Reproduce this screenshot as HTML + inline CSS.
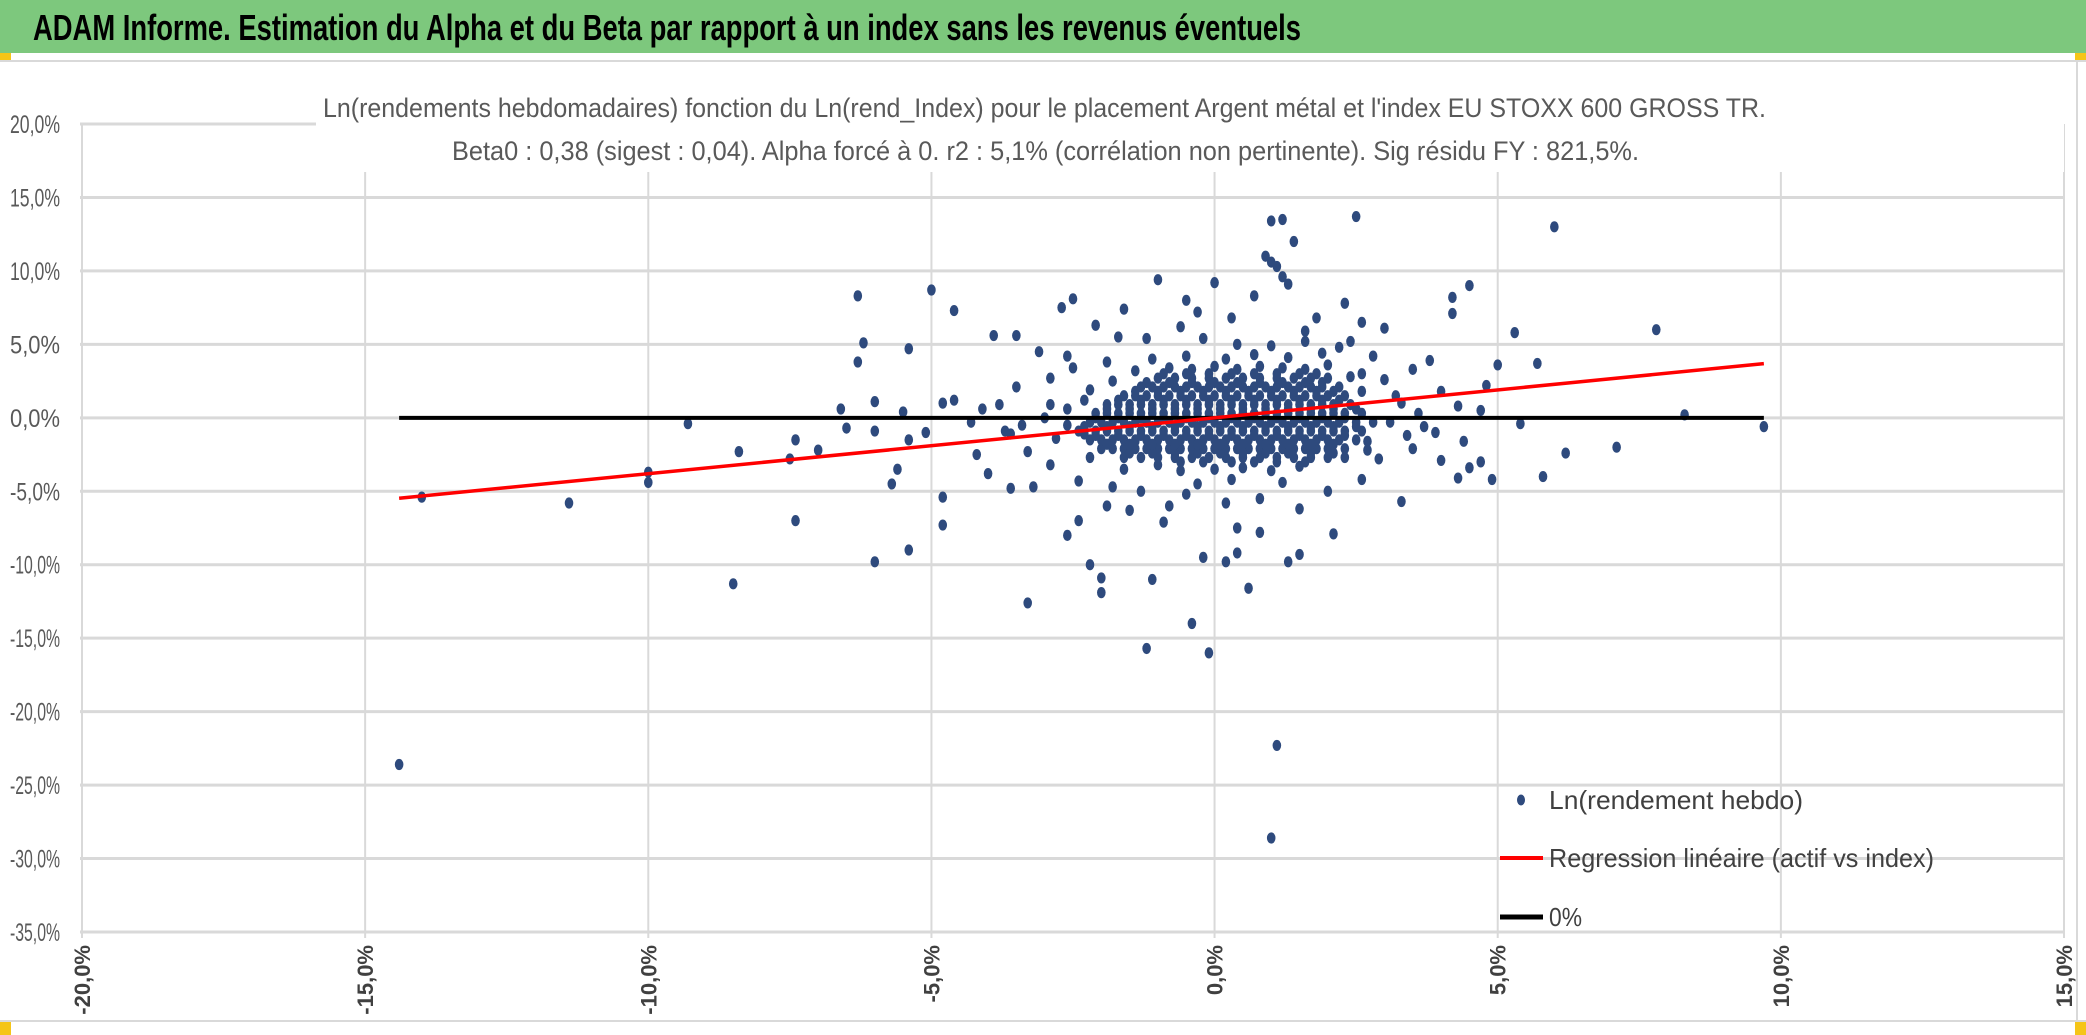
<!DOCTYPE html>
<html><head><meta charset="utf-8"><style>
html,body{margin:0;padding:0;background:#fff}
svg{display:block}
text{font-family:"Liberation Sans",sans-serif}
</style></head><body>
<svg id="chart" width="2086" height="1035" viewBox="0 0 2086 1035" xmlns="http://www.w3.org/2000/svg">
<rect x="0" y="0" width="2086" height="1035" fill="#fff"/>
<rect x="0" y="0" width="2086" height="53" fill="#7dc87d"/>
<text x="33" y="40" font-size="36" font-weight="bold" fill="#000" textLength="1268" lengthAdjust="spacingAndGlyphs">ADAM Informe. Estimation du Alpha et du Beta par rapport à un index sans les revenus éventuels</text>
<rect x="0" y="53" width="11" height="7" fill="#f5c518"/>
<rect x="2075" y="53" width="11" height="7" fill="#f5c518"/>
<line x1="0" y1="61" x2="2086" y2="61" stroke="#d9d9d9" stroke-width="2"/>
<line x1="2077" y1="61" x2="2077" y2="1021" stroke="#d9d9d9" stroke-width="2"/>
<line x1="0" y1="1021" x2="2086" y2="1021" stroke="#d9d9d9" stroke-width="2"/>
<rect x="0" y="1022" width="11" height="13" fill="#f5c518"/>
<rect x="2075" y="1022" width="11" height="13" fill="#f5c518"/>
<g id="grid"></g>
<rect x="316" y="84" width="1748" height="88" fill="#fff"/>
<text x="323" y="117" font-size="27" fill="#595959" textLength="1443" lengthAdjust="spacingAndGlyphs">Ln(rendements hebdomadaires) fonction du Ln(rend_Index) pour le placement Argent métal et l'index EU STOXX 600 GROSS TR.</text>
<text x="452" y="160" font-size="27" fill="#595959" textLength="1187" lengthAdjust="spacingAndGlyphs">Beta0 : 0,38 (sigest : 0,04). Alpha forcé à 0. r2 : 5,1% (corrélation non pertinente). Sig résidu FY : 821,5%.</text>
<g id="axes"></g>
<g id="series"></g>
<g id="legend">
<ellipse cx="1521" cy="800" rx="4" ry="5.5" fill="#2e4a7d"/>
<text x="1549" y="809" font-size="26" fill="#404040" textLength="254" lengthAdjust="spacingAndGlyphs">Ln(rendement hebdo)</text>
<line x1="1500" y1="858" x2="1543" y2="858" stroke="#ff0000" stroke-width="4"/>
<text x="1549" y="867" font-size="26" fill="#404040" textLength="385" lengthAdjust="spacingAndGlyphs">Regression linéaire (actif vs index)</text>
<line x1="1500" y1="917" x2="1543" y2="917" stroke="#000" stroke-width="5"/>
<text x="1549" y="926" font-size="26" fill="#404040" textLength="33" lengthAdjust="spacingAndGlyphs">0%</text>
</g>
</svg>
<script>
const xTicks=[-20,-15,-10,-5,0,5,10,15];
const yTicks=[20,15,10,5,0,-5,-10,-15,-20,-25,-30,-35];
const xTickLabels=["-20,0%","-15,0%","-10,0%","-5,0%","0,0%","5,0%","10,0%","15,0%"];
const yTickLabels=["20,0%","15,0%","10,0%","5,0%","0,0%","-5,0%","-10,0%","-15,0%","-20,0%","-25,0%","-30,0%","-35,0%"];
const beta=0.38;
const lineRange=[-14.4,9.7];
const outliers=[[-14.4,-23.6],[-14.0,-5.4],[-11.4,-5.8],[-10.0,-4.4],[-10.0,-3.7],[-9.3,-0.4],[-8.4,-2.3],[-8.5,-11.3],[-7.4,-1.5],[-7.5,-2.8],[-7.4,-7.0],[-6.3,8.3],[-6.3,3.8],[-6.2,5.1],[-6.6,0.6],[-6.5,-0.7],[-6.0,1.1],[-6.0,-0.9],[-6.0,-9.8],[-5.7,-4.5],[-5.6,-3.5],[-5.5,0.4],[-5.4,4.7],[-5.4,-1.5],[-5.4,-9.0],[-5.1,-1.0],[-5.0,8.7],[-4.8,-5.4],[-4.8,-7.3],[-4.8,1.0],[-4.6,7.3],[-4.6,1.2],[-4.2,-2.5],[-4.1,0.6],[-4.0,-3.8],[-3.9,5.6],[-3.7,-0.9],[-3.6,-4.8],[-3.5,5.6],[-3.5,2.1],[-3.3,-12.6],[-3.2,-4.7],[-3.3,-2.3],[-3.1,4.5],[-2.9,2.7],[-2.9,-3.2],[-2.7,7.5],[-2.6,-8.0],[-2.5,8.1],[-2.4,-7.0],[-2.3,-1.1],[-2.2,-10.0],[-2.0,-11.9],[-2.1,6.3],[-2.0,-10.9],[-1.8,-4.7],[-1.6,7.4],[-1.5,-6.3],[-1.4,-1.6],[-1.3,-5.0],[-1.2,-15.7],[-1.1,-11.0],[-1.0,9.4],[-0.9,-7.1],[-0.5,8.0],[-0.4,-14.0],[-0.2,-9.5],[-0.1,-16.0],[0.0,9.2],[0.2,-9.8],[0.4,-7.5],[0.4,-9.2],[0.6,-11.6],[0.7,8.3],[0.8,-7.8],[0.9,11.0],[1.0,10.6],[1.1,10.3],[1.2,9.6],[1.0,-28.6],[1.1,-22.3],[1.0,13.4],[1.2,13.5],[1.4,12.0],[1.3,9.1],[1.3,-9.8],[1.5,-9.3],[2.1,-7.9],[2.5,13.7],[2.3,7.8],[2.6,6.5],[3.0,6.1],[3.3,-5.7],[3.5,3.3],[3.8,3.9],[4.2,8.2],[4.2,7.1],[4.5,9.0],[4.5,-3.4],[4.3,-4.1],[4.8,2.2],[4.9,-4.2],[5.0,3.6],[5.3,5.8],[5.4,-0.4],[5.7,3.7],[5.8,-4.0],[6.0,13.0],[6.2,-2.4],[7.1,-2.0],[7.8,6.0],[8.3,0.2],[9.7,-0.6],[3.9,-1.0],[3.5,-2.1],[4.0,-2.9],[4.3,0.8],[4.7,-3.0],[3.6,0.3],[3.1,-0.3],[3.2,1.5],[3.0,2.6],[4.7,0.5],[-7.0,-2.2],[-3.0,0.0],[-3.8,0.9],[-4.3,-0.3],[-2.8,-1.4],[-3.6,-1.1],[-2.5,3.4],[-2.2,-2.7],[-2.6,4.2],[-2.9,0.9],[-3.4,-0.5],[-2.4,-4.3],[-1.9,-6.0],[-1.7,5.5],[-1.9,3.8],[-2.2,1.9],[-2.6,-0.5],[-1.6,-3.5],[-0.8,-6.0],[-0.5,-5.2],[0.2,-5.8],[0.8,-5.5],[1.5,-6.2],[2.0,-5.0],[2.6,-4.2],[2.9,-2.8],[2.8,4.2],[2.4,5.2],[1.8,6.8],[1.6,5.9],[-0.6,6.2],[-1.2,5.4],[0.3,6.8],[-0.3,7.2],[3.4,-1.2],[3.3,1.0],[3.7,-0.6],[4.0,1.8],[4.4,-1.6],[2.7,-1.6],[2.6,1.8]];
const corePoints=[
[-0.6,-3.6],[0.0,-3.5],[0.5,-3.4],[1.0,-3.6],[1.5,-3.3],[-1.0,-3.2],[0.3,-4.2],[1.2,-4.4],[-0.3,-4.5],
[-1.6,-2.7],[-1.3,-2.7],[-1.0,-2.7],[-0.7,-2.7],[-0.4,-2.7],[-0.1,-2.7],[0.2,-2.7],[0.5,-2.7],[0.8,-2.7],[1.1,-2.7],[1.4,-2.7],[1.7,-2.7],[2.0,-2.7],[2.3,-2.7],
[-2.0,-2.1],[-1.8,-2.1],[-1.6,-2.1],[-1.4,-2.1],[-1.2,-2.1],[-1.0,-2.1],[-0.8,-2.1],[-0.6,-2.1],[-0.4,-2.1],[-0.2,-2.1],[0.0,-2.1],[0.2,-2.1],[0.4,-2.1],[0.6,-2.1],[0.8,-2.1],[1.0,-2.1],[1.2,-2.1],[1.4,-2.1],[1.6,-2.1],[1.8,-2.1],[2.0,-2.1],[2.3,-2.1],
[-2.2,-1.5],[-2.0,-1.5],[-1.8,-1.5],[-1.6,-1.5],[-1.4,-1.5],[-1.2,-1.5],[-1.0,-1.5],[-0.8,-1.5],[-0.6,-1.5],[-0.4,-1.5],[-0.2,-1.5],[0.0,-1.5],[0.2,-1.5],[0.4,-1.5],[0.6,-1.5],[0.8,-1.5],[1.0,-1.5],[1.2,-1.5],[1.4,-1.5],[1.6,-1.5],[1.8,-1.5],[2.0,-1.5],[2.2,-1.5],[2.5,-1.5],
[-2.4,-0.9],[-2.1,-0.9],[-1.9,-0.9],[-1.7,-0.9],[-1.5,-0.9],[-1.3,-0.9],[-1.1,-0.9],[-0.9,-0.9],[-0.7,-0.9],[-0.5,-0.9],[-0.3,-0.9],[-0.1,-0.9],[0.1,-0.9],[0.3,-0.9],[0.5,-0.9],[0.7,-0.9],[0.9,-0.9],[1.1,-0.9],[1.3,-0.9],[1.5,-0.9],[1.7,-0.9],[1.9,-0.9],[2.1,-0.9],[2.3,-0.9],[2.6,-0.9],
[-2.2,-0.3],[-2.0,-0.3],[-1.8,-0.3],[-1.6,-0.3],[-1.4,-0.3],[-1.2,-0.3],[-1.0,-0.3],[-0.8,-0.3],[-0.6,-0.3],[-0.4,-0.3],[-0.2,-0.3],[0.0,-0.3],[0.2,-0.3],[0.4,-0.3],[0.6,-0.3],[0.8,-0.3],[1.0,-0.3],[1.2,-0.3],[1.4,-0.3],[1.6,-0.3],[1.8,-0.3],[2.0,-0.3],[2.2,-0.3],[2.5,-0.3],[2.8,-0.3],
[-2.1,0.3],[-1.9,0.3],[-1.7,0.3],[-1.5,0.3],[-1.3,0.3],[-1.1,0.3],[-0.9,0.3],[-0.7,0.3],[-0.5,0.3],[-0.3,0.3],[-0.1,0.3],[0.1,0.3],[0.3,0.3],[0.5,0.3],[0.7,0.3],[0.9,0.3],[1.1,0.3],[1.3,0.3],[1.5,0.3],[1.7,0.3],[1.9,0.3],[2.1,0.3],[2.3,0.3],[2.6,0.3],
[-1.9,0.9],[-1.7,0.9],[-1.5,0.9],[-1.3,0.9],[-1.1,0.9],[-0.9,0.9],[-0.7,0.9],[-0.5,0.9],[-0.3,0.9],[-0.1,0.9],[0.1,0.9],[0.3,0.9],[0.5,0.9],[0.7,0.9],[0.9,0.9],[1.1,0.9],[1.3,0.9],[1.5,0.9],[1.7,0.9],[1.9,0.9],[2.1,0.9],[2.4,0.9],
[-1.6,1.5],[-1.4,1.5],[-1.2,1.5],[-1.0,1.5],[-0.8,1.5],[-0.6,1.5],[-0.4,1.5],[-0.2,1.5],[0.0,1.5],[0.2,1.5],[0.4,1.5],[0.6,1.5],[0.8,1.5],[1.0,1.5],[1.2,1.5],[1.4,1.5],[1.6,1.5],[1.8,1.5],[2.0,1.5],[2.3,1.5],
[-1.3,2.1],[-1.1,2.1],[-0.9,2.1],[-0.7,2.1],[-0.5,2.1],[-0.3,2.1],[-0.1,2.1],[0.1,2.1],[0.3,2.1],[0.5,2.1],[0.7,2.1],[0.9,2.1],[1.1,2.1],[1.3,2.1],[1.5,2.1],[1.7,2.1],[1.9,2.1],[2.2,2.1],
[-1.0,2.7],[-0.7,2.7],[-0.4,2.7],[-0.1,2.7],[0.2,2.7],[0.5,2.7],[0.8,2.7],[1.1,2.7],[1.4,2.7],[1.7,2.7],[2.0,2.7],
[-0.8,3.4],[-0.4,3.3],[0.0,3.5],[0.4,3.3],[0.8,3.5],[1.2,3.4],[1.6,3.3],[2.0,3.6],
[-0.5,4.2],[0.2,4.0],[0.7,4.3],[1.3,4.1],[1.9,4.4],[-1.1,4.0],[0.4,5.0],[1.0,4.9],[1.6,5.2],[2.2,4.8],[-0.2,5.4],[-1.4,3.2],[-1.8,2.5],[2.4,2.8],[2.6,3.0],[-2.3,1.2],[-2.6,0.6],[2.7,-2.2]];
const coreFill=[
[-1.5,-2.4],[-1.1,-2.4],[-0.7,-2.4],[-0.3,-2.4],[0.1,-2.4],[0.5,-2.4],[0.9,-2.4],[1.3,-2.4],[1.7,-2.4],[2.1,-2.4],
[-1.9,-1.8],[-1.5,-1.8],[-1.1,-1.8],[-0.7,-1.8],[-0.3,-1.8],[0.1,-1.8],[0.5,-1.8],[0.9,-1.8],[1.3,-1.8],[1.7,-1.8],[2.1,-1.8],
[-2.1,-1.2],[-1.7,-1.2],[-1.3,-1.2],[-0.9,-1.2],[-0.5,-1.2],[-0.1,-1.2],[0.3,-1.2],[0.7,-1.2],[1.1,-1.2],[1.5,-1.2],[1.9,-1.2],[2.3,-1.2],
[-2.3,-0.6],[-1.9,-0.6],[-1.5,-0.6],[-1.1,-0.6],[-0.7,-0.6],[-0.3,-0.6],[0.1,-0.6],[0.5,-0.6],[0.9,-0.6],[1.3,-0.6],[1.7,-0.6],[2.1,-0.6],[2.5,-0.6],
[-2.1,0.0],[-1.7,0.0],[-1.3,0.0],[-0.9,0.0],[-0.5,0.0],[-0.1,0.0],[0.3,0.0],[0.7,0.0],[1.1,0.0],[1.5,0.0],[1.9,0.0],[2.3,0.0],
[-1.9,0.6],[-1.5,0.6],[-1.1,0.6],[-0.7,0.6],[-0.3,0.6],[0.1,0.6],[0.5,0.6],[0.9,0.6],[1.3,0.6],[1.7,0.6],[2.1,0.6],[2.5,0.6],
[-1.7,1.2],[-1.3,1.2],[-0.9,1.2],[-0.5,1.2],[-0.1,1.2],[0.3,1.2],[0.7,1.2],[1.1,1.2],[1.5,1.2],[1.9,1.2],[2.2,1.2],
[-1.4,1.8],[-1.0,1.8],[-0.6,1.8],[-0.2,1.8],[0.2,1.8],[0.6,1.8],[1.0,1.8],[1.4,1.8],[1.8,1.8],[2.1,1.8],
[-1.2,2.4],[-0.8,2.4],[-0.4,2.4],[0.0,2.4],[0.4,2.4],[0.8,2.4],[1.2,2.4],[1.6,2.4],[1.9,2.4],
[-0.9,3.0],[-0.5,3.0],[-0.1,3.0],[0.3,3.0],[0.7,3.0],[1.1,3.0],[1.5,3.0],[1.8,3.0],
[-0.6,-3.0],[-0.2,-3.0],[0.3,-3.0],[0.7,-3.0],[1.1,-3.0],[1.6,-3.0]];
const X0=82,X1=2064,XMIN=-20,XMAX=15,Y0=124,Y1=932,YMAX=20,YMIN=-35;
function sx(v){return X0+(v-XMIN)/(XMAX-XMIN)*(X1-X0);}
function sy(v){return Y0+(YMAX-v)/(YMAX-YMIN)*(Y1-Y0);}
const NS="http://www.w3.org/2000/svg";
function mk(tag,attrs,parent){const e=document.createElementNS(NS,tag);for(const k in attrs)e.setAttribute(k,attrs[k]);parent.appendChild(e);return e;}
const grid=document.getElementById('grid'),axes=document.getElementById('axes'),series=document.getElementById('series');
yTicks.forEach((t,i)=>{
  const l=mk('line',{x1:X0-2,x2:X1,y1:sy(t),y2:sy(t),stroke:'#d9d9d9','stroke-width':3},grid);
  
  
  const tx=mk('text',{x:60,y:sy(t)+9,'font-size':25,fill:'#595959','text-anchor':'end',textLength:50,lengthAdjust:'spacingAndGlyphs'},axes);
  tx.textContent=yTickLabels[i];
  
  
});
xTicks.forEach((t,i)=>{
  const l=mk('line',{x1:sx(t),x2:sx(t),y1:Y0,y2:Y1+6,stroke:'#d9d9d9','stroke-width':2},grid);
  
  
  const tx=mk('text',{x:0,y:0,'font-size':22,fill:'#404040','font-weight':'bold','text-anchor':'end',transform:`translate(${sx(t)+8},945) rotate(-90)`},axes);
  tx.textContent=xTickLabels[i];
  
  
});
const pts=outliers.concat(corePoints).concat(coreFill);
pts.forEach(p=>{
  const c=mk('ellipse',{cx:sx(p[0]),cy:sy(p[1]),rx:4.3,ry:5.6,fill:'#2e4a7d'},series);
  
  
});
const zl=mk('line',{x1:sx(lineRange[0]),x2:sx(lineRange[1]),y1:sy(0),y2:sy(0),stroke:'#000','stroke-width':4},series);


const rl=mk('line',{x1:sx(lineRange[0]),x2:sx(lineRange[1]),y1:sy(beta*lineRange[0]),y2:sy(beta*lineRange[1]),stroke:'#ff0000','stroke-width':3.5},series);


</script>
</body></html>
